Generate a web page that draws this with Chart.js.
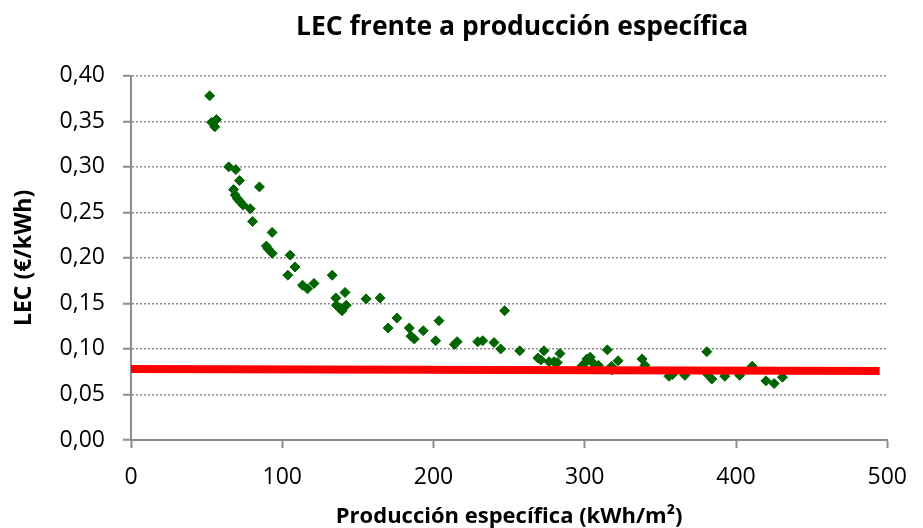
<!DOCTYPE html>
<html>
<head>
<meta charset="utf-8">
<script src="https://cdn.jsdelivr.net/npm/chart.js@4"></script>
<style>
  html, body { margin: 0; padding: 0; background: #fff; }
  #wrap { width: 923px; height: 528px; }
</style>
</head>
<body>
<div id="wrap"><canvas id="lecChart" width="923" height="528"></canvas></div>
<script>
// producción específica (kWh/m2) y LEC (€/kWh) de cada instalación
const produccion = [
  52, 53.3, 56.5, 55.4, 64.6, 69.3, 71.7, 84.9, 67.8, 68.9, 70.4, 72, 74, 78.8, 80.4,
  93.3, 89.5, 90.6, 93.4, 105.2, 108.4, 103.7, 113.4, 116.7, 121, 133, 135.4, 141.5,
  135.8, 139.5, 142.3, 137.8, 155.4, 164.7, 170, 175.8, 184, 185.1, 187.3, 193.2,
  201.4, 203.6, 213.8, 215.6, 229.3, 232.5, 240, 244.4, 247, 257, 269, 273, 271,
  276.4, 279.7, 281.8, 283.6, 301.4, 303.6, 300.3, 304.6, 309, 314.9, 317.7, 322,
  337.9, 339.8, 355.7, 358, 366.2, 380.7, 380.7, 384, 392.6, 402.4, 410.7, 419.8,
  425.2, 430.7, 298, 306, 318
];
const lec = [
  0.378, 0.349, 0.352, 0.344, 0.300, 0.297, 0.285, 0.278, 0.275, 0.269, 0.265, 0.262, 0.258, 0.254, 0.240,
  0.228, 0.213, 0.210, 0.205, 0.203, 0.190, 0.181, 0.170, 0.166, 0.172, 0.181, 0.156, 0.162,
  0.148, 0.142, 0.148, 0.145, 0.155, 0.156, 0.123, 0.134, 0.123, 0.114, 0.111, 0.120,
  0.109, 0.131, 0.105, 0.108, 0.108, 0.109, 0.107, 0.100, 0.142, 0.098, 0.090, 0.098, 0.088,
  0.086, 0.086, 0.085, 0.095, 0.089, 0.091, 0.085, 0.086, 0.082, 0.099, 0.081, 0.087,
  0.089, 0.082, 0.070, 0.072, 0.071, 0.097, 0.073, 0.067, 0.070, 0.071, 0.081, 0.065,
  0.062, 0.069, 0.081, 0.078, 0.077
];
// línea de referencia (roja)
const refX = [0, 495];
const refY = [0.078, 0.0758];

const tituloGrafico = 'LEC frente a producción específica';
const tituloX = 'Producción específica (kWh/m²)';
const tituloY = 'LEC (€/kWh)';

const fontFam = '"Open Sans", "Liberation Sans", sans-serif';
const grisEje = '#8c8c8c';

const puntos = produccion.map((x, i) => ({ x: x, y: lec[i] }));
const referencia = refX.map((x, i) => ({ x: x, y: refY[i] }));

// centra el título sobre el área de trazado, como en Excel
const tituloSobreArea = {
  id: 'tituloSobreArea',
  afterLayout(chart) {
    if (chart.titleBlock) {
      chart.titleBlock.left = chart.chartArea.left + 4;
      chart.titleBlock.right = chart.chartArea.right + 22;
      chart.titleBlock.width = chart.titleBlock.right - chart.titleBlock.left;
    }
  }
};

new Chart(document.getElementById('lecChart'), {
  type: 'scatter',
  data: {
    datasets: [
      {
        label: 'Referencia',
        data: referencia,
        showLine: true,
        borderColor: '#ff0000',
        borderWidth: 8,
        pointRadius: 0,
        fill: false
      },
      {
        label: 'LEC',
        data: puntos,
        pointStyle: 'rectRot',
        pointRadius: 5,
        pointBackgroundColor: '#006400',
        pointBorderColor: '#006400',
        pointBorderWidth: 1
      }
    ]
  },
  plugins: [tituloSobreArea],
  options: {
    responsive: false,
    animation: false,
    layout: { padding: { left: 0, right: 25, top: 0, bottom: 0 } },
    plugins: {
      legend: { display: false },
      tooltip: { enabled: false },
      title: {
        display: true,
        text: tituloGrafico,
        color: '#000',
        font: { family: fontFam, size: 26.5, weight: 'bold' },
        padding: { top: 12, bottom: 32 }
      }
    },
    scales: {
      x: {
        type: 'linear',
        min: 0,
        max: 500,
        afterFit: s => { s.height = 88; },
        ticks: {
          stepSize: 100,
          color: '#000',
          padding: 16,
          font: { family: fontFam, size: 23 },
          maxRotation: 0
        },
        grid: { drawOnChartArea: false, drawTicks: true, tickLength: 8, tickColor: grisEje, tickWidth: 2 },
        border: { color: grisEje, width: 2 },
        title: {
          display: true,
          text: tituloX,
          color: '#000',
          font: { family: fontFam, size: 22, weight: 'bold', lineHeight: 1.0 },
          padding: { top: 0, bottom: 0 }
        }
      },
      y: {
        min: 0,
        max: 0.4,
        afterFit: s => { s.width = 131; },
        ticks: {
          stepSize: 0.05,
          color: '#000',
          padding: 18,
          font: { family: fontFam, size: 23 },
          callback: v => v.toFixed(2).replace('.', ',')
        },
        grid: {
          color: grisEje,
          lineWidth: 1.5,
          tickLength: 8,
          tickColor: grisEje,
          tickWidth: 2,
          tickBorderDash: []
        },
        border: { color: grisEje, width: 2, dash: [2, 2] },
        title: {
          display: true,
          text: tituloY,
          color: '#000',
          font: { family: fontFam, size: 23, weight: 'bold' },
          padding: { top: 11, bottom: 0 }
        }
      }
    }
  }
});
</script>
</body>
</html>
